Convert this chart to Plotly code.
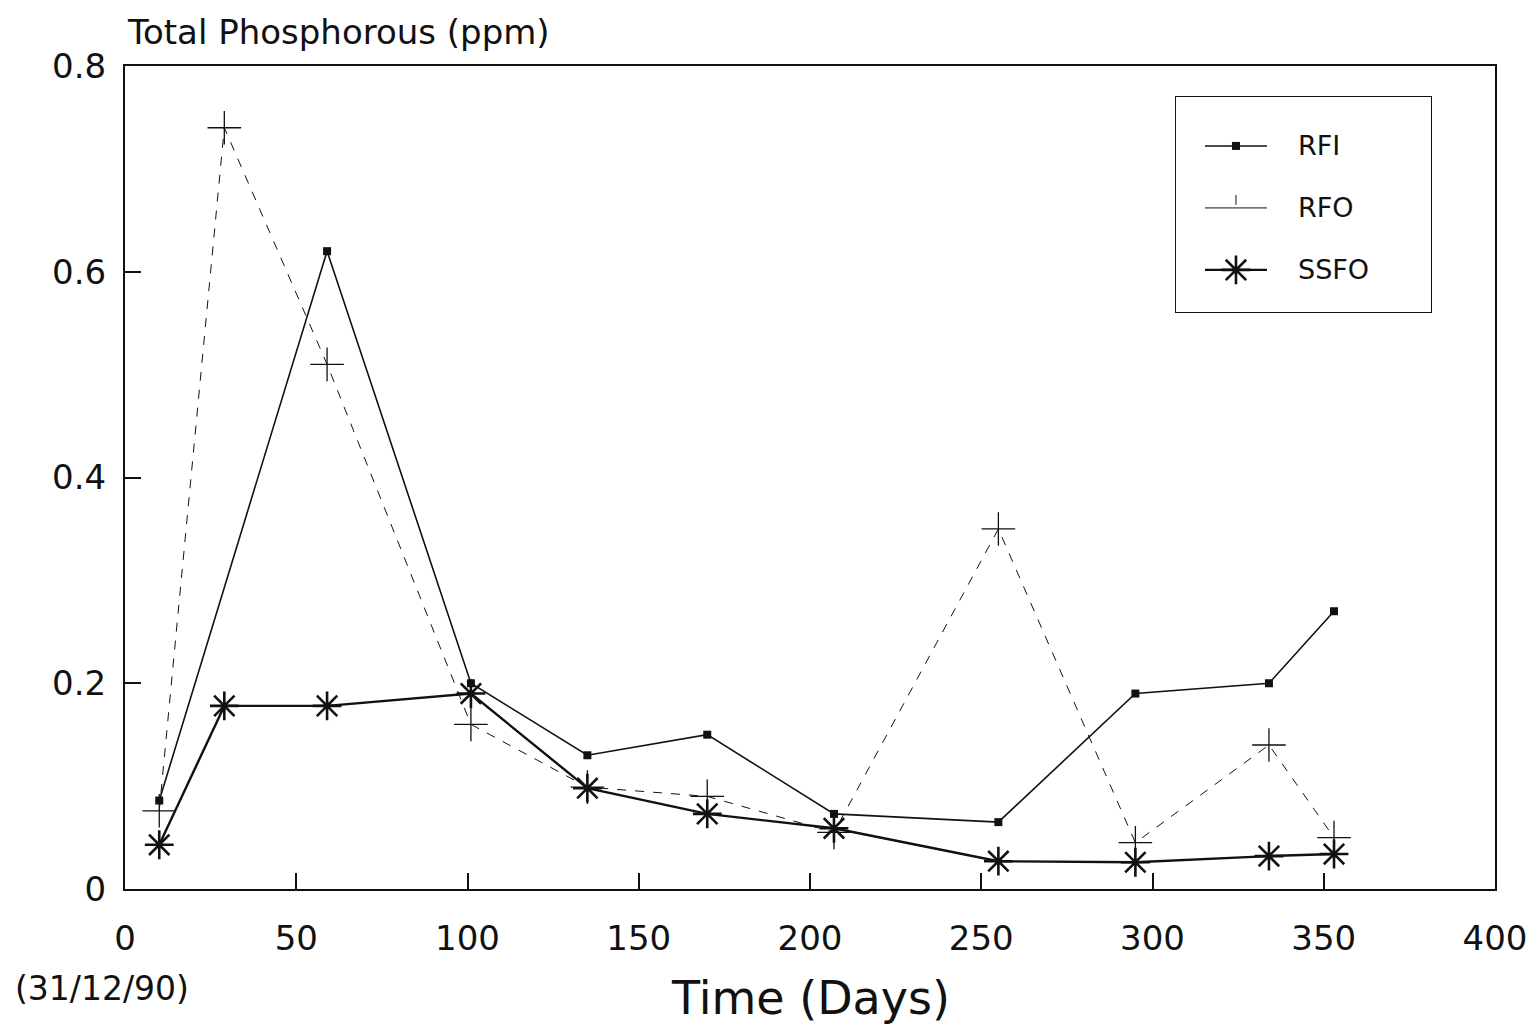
import plotly.graph_objects as go

# Sampling days (day 0 = 31/12/90)
rfi_days = [10, 59, 101, 135, 170, 207, 255, 295, 334, 353]
rfi = [0.086, 0.62, 0.20, 0.13, 0.15, 0.073, 0.065, 0.19, 0.20, 0.27]

rfo_days = [10, 29, 59, 101, 135, 170, 207, 255, 295, 334, 353]
rfo = [0.076, 0.74, 0.51, 0.16, 0.099, 0.09, 0.055, 0.35, 0.045, 0.14, 0.05]

ssfo_days = [10, 29, 59, 101, 135, 170, 207, 255, 295, 334, 353]
ssfo = [0.043, 0.178, 0.178, 0.19, 0.098, 0.073, 0.059, 0.027, 0.026, 0.032, 0.034]

series_names = ["RFI", "RFO", "SSFO"]

x_ticks = [0, 50, 100, 150, 200, 250, 300, 350, 400]
y_ticks = [0, 0.2, 0.4, 0.6, 0.8]
y_tick_text = ["0", "0.2", "0.4", "0.6", "0.8"]

FONT = "DejaVu Sans"
INK = "#111111"

styles = {
    "RFI": dict(line=dict(color=INK, width=1.6),
                marker=dict(symbol="square", size=8, color=INK)),
    "RFO": dict(line=dict(color=INK, width=1, dash="dash"),
                marker=dict(symbol="cross-thin", size=24, color=INK,
                            line=dict(color=INK, width=1.3))),
    "SSFO": dict(line=dict(color=INK, width=2.4),
                 marker=dict(symbol="asterisk-open", size=24, color=INK,
                             line=dict(color=INK, width=2.6))),
}

fig = go.Figure()

for name, xs, ys in [("RFI", rfi_days, rfi), ("RFO", rfo_days, rfo),
                     ("SSFO", ssfo_days, ssfo)]:
    fig.add_trace(go.Scatter(x=xs, y=ys, name=name, mode="lines+markers",
                             showlegend=False, **styles[name]))

# Key drawn in its own small coordinate frame (units of screen pixels)
key_rows = [146, 208, 270]
key_line = [1205, 1267]
key_mid = 1236
key_text_x = 1296
key_samples = {
    "RFI": dict(line=dict(color=INK, width=1.6),
                marker=dict(symbol="square", size=8, color=INK)),
    "RFO": dict(line=dict(color=INK, width=1),
                marker=dict(symbol="line-ns", size=7, color=INK,
                            line=dict(color=INK, width=1))),
    "SSFO": dict(line=dict(color=INK, width=2.2),
                 marker=dict(symbol="asterisk-open", size=24, color=INK,
                             line=dict(color=INK, width=2.6))),
}
for name, yk in zip(series_names, key_rows):
    fig.add_trace(go.Scatter(x=key_line, y=[yk, yk], mode="lines",
                             line=key_samples[name]["line"],
                             xaxis="x2", yaxis="y2", showlegend=False,
                             hoverinfo="skip"))
    my = yk - 8 if name == "RFO" else yk
    fig.add_trace(go.Scatter(x=[key_mid], y=[my], mode="markers",
                             marker=key_samples[name]["marker"],
                             xaxis="x2", yaxis="y2", showlegend=False,
                             hoverinfo="skip"))

annotations = [
    dict(text="Total Phosphorous (ppm)", xref="paper", yref="paper",
         x=0, y=1, xanchor="left", yanchor="bottom", yshift=12,
         showarrow=False, font=dict(family=FONT, size=34, color=INK)),
    dict(text="Time (Days)", xref="paper", yref="paper",
         x=0.5, y=0, xanchor="center", yanchor="top", yshift=-80,
         showarrow=False, font=dict(family=FONT, size=46, color=INK)),
    dict(text="(31/12/90)", xref="paper", yref="paper",
         x=0, y=0, xanchor="left", yanchor="top", xshift=-112, yshift=-78,
         showarrow=False, font=dict(family=FONT, size=33, color=INK)),
]
for name, yk in zip(series_names, key_rows):
    annotations.append(dict(text=name, xref="x2", yref="y2", x=key_text_x,
                            y=yk, xanchor="left", yanchor="middle",
                            showarrow=False,
                            font=dict(family=FONT, size=27, color=INK)))

fig.update_layout(
    width=1531, height=1029,
    margin=dict(l=125, r=36, t=66, b=140),
    paper_bgcolor="white", plot_bgcolor="white",
    font=dict(family=FONT, size=34, color=INK),
    showlegend=False,
    xaxis=dict(
        range=[0, 400], tickvals=x_ticks, ticks="inside", ticklen=16,
        tickwidth=2, tickcolor=INK, showgrid=False, zeroline=False,
        showline=True, linecolor=INK, linewidth=2, mirror=True,
        tickfont=dict(family=FONT, size=34), ticklabelstandoff=18,
        automargin=False, ticklabeloverflow="allow",
    ),
    yaxis=dict(
        range=[0, 0.8], tickvals=y_ticks, ticktext=y_tick_text,
        ticks="inside", ticklen=16, tickwidth=2, tickcolor=INK,
        showgrid=False, zeroline=False,
        showline=True, linecolor=INK, linewidth=2, mirror=True,
        tickfont=dict(family=FONT, size=34), ticklabelstandoff=10,
        automargin=False,
    ),
    xaxis2=dict(domain=[0.7664, 0.954], range=[1175, 1432], anchor="y2",
                visible=False, fixedrange=True),
    yaxis2=dict(domain=[0.700, 0.9636], range=[313, 96], anchor="x2",
                visible=False, fixedrange=True),
    shapes=[dict(type="rect", xref="x2", yref="y2", x0=1175, x1=1432,
                 y0=96, y1=313, line=dict(color=INK, width=2),
                 layer="below")],
    annotations=annotations,
)

fig.write_html("out.html")
